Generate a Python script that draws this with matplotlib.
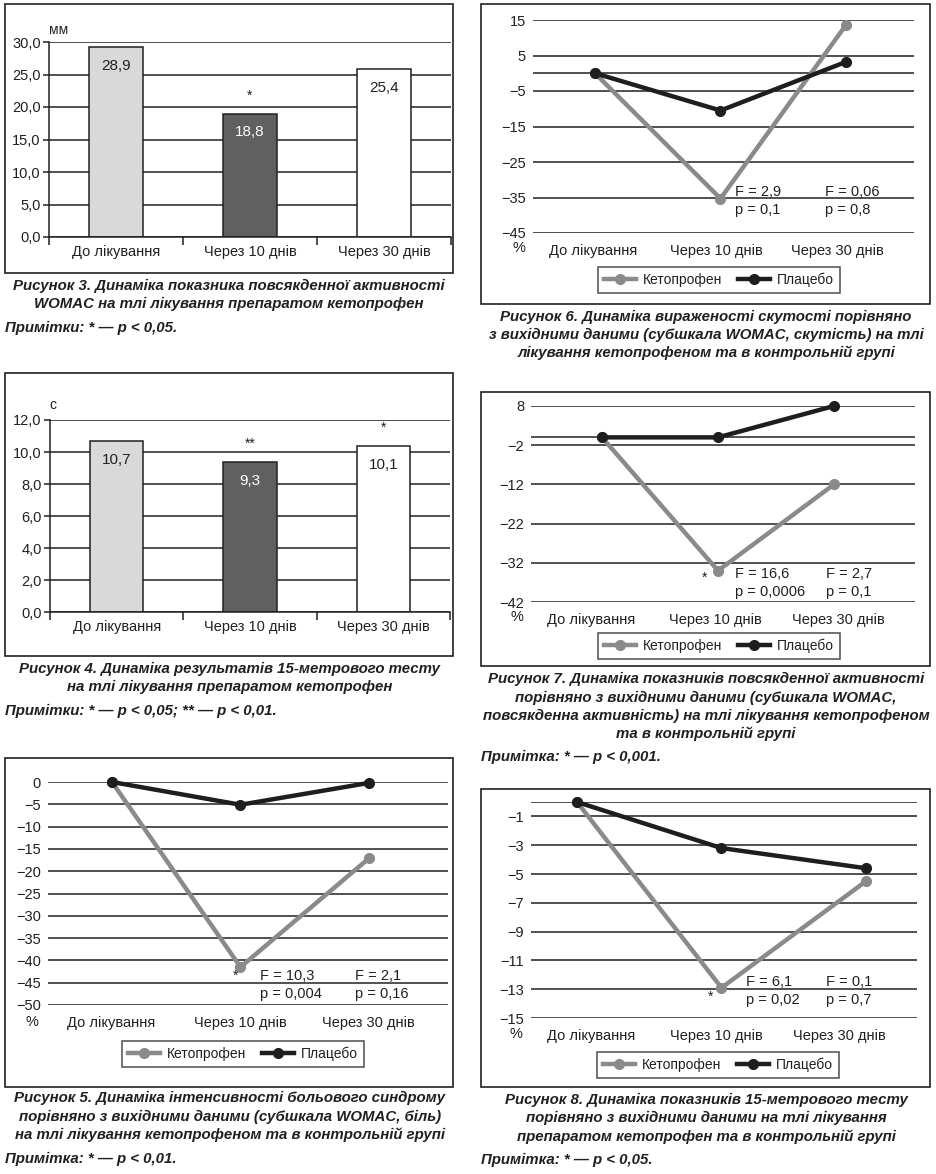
import matplotlib.pyplot as plt
from matplotlib.patches import Rectangle
import numpy as np

plt.rcParams['font.family'] = ['Liberation Sans', 'DejaVu Sans']
plt.rcParams['text.color'] = '#231f20'
plt.rcParams['xtick.color'] = '#231f20'
plt.rcParams['ytick.color'] = '#231f20'

W, H = 937, 1174

categories = ['До лікування', 'Через 10 днів', 'Через 30 днів']
series_names = ['Кетопрофен', 'Плацебо']

# Рисунок 3 - WOMAC, мм
fig3_values = [29.2, 19.0, 25.8]
fig3_labels = ['28,9', '18,8', '25,4']
fig3_marks = ['', '*', '']
fig3_ticks = [0, 5, 10, 15, 20, 25, 30]

# Рисунок 4 - 15-метровий тест, с
fig4_values = [10.7, 9.4, 10.4]
fig4_labels = ['10,7', '9,3', '10,1']
fig4_marks = ['', '**', '*']
fig4_ticks = [0, 2, 4, 6, 8, 10, 12]

# Рисунок 5 - біль, %
fig5_keto = [0, -41.5, -17.1]
fig5_placebo = [0, -5.1, -0.2]
fig5_ticks = [0, -5, -10, -15, -20, -25, -30, -35, -40, -45, -50]
fig5_stats = [('F = 10,3', 'p = 0,004'), ('F = 2,1', 'p = 0,16')]

# Рисунок 6 - скутість, %
fig6_keto = [0, -35.3, 13.6]
fig6_placebo = [0, -10.5, 3.2]
fig6_ticks = [15, 5, -5, -15, -25, -35, -45]
fig6_stats = [('F = 2,9', 'p = 0,1'), ('F = 0,06', 'p = 0,8')]

# Рисунок 7 - повсякденна активність, %
fig7_keto = [0, -34.0, -12.0]
fig7_placebo = [0, 0, 8.0]
fig7_ticks = [8, -2, -12, -22, -32, -42]
fig7_stats = [('F = 16,6', 'p = 0,0006'), ('F = 2,7', 'p = 0,1')]

# Рисунок 8 - 15-метровий тест, %
fig8_keto = [0, -12.9, -5.5]
fig8_placebo = [0, -3.2, -4.6]
fig8_ticks = [-1, -3, -5, -7, -9, -11, -13, -15]
fig8_stats = [('F = 6,1', 'p = 0,02'), ('F = 0,1', 'p = 0,7')]

fig = plt.figure(figsize=(W / 100, H / 100), dpi=100)


def px_ax(x0, y0, x1, y1):
    return fig.add_axes([x0 / W, 1 - y1 / H, (x1 - x0) / W, (y1 - y0) / H])


def ptext(x, y, s, **kw):
    kw.setdefault('fontsize', 10)
    kw.setdefault('va', 'center')
    fig.text(x / W, 1 - y / H, s, **kw)


def frame(x0, y0, x1, y1):
    fig.patches.append(Rectangle((x0 / W, 1 - y1 / H), (x1 - x0) / W, (y1 - y0) / H,
                                 transform=fig.transFigure, fill=False,
                                 edgecolor='#231f20', linewidth=1.2))


def caption(cx, ys, lines):
    for y, s in zip(ys, lines):
        ptext(cx, y, s, ha='center', fontsize=10.8, fontweight='bold', fontstyle='italic')


def note(x, y, s):
    ptext(x, y, s, ha='left', fontsize=10.8, fontweight='bold', fontstyle='italic')


def bar_chart(rect, values, labels, marks, ticks, unit_xy, unit):
    ax = px_ax(*rect)
    x = np.arange(len(values))
    ax.set_axisbelow(True)
    ax.yaxis.grid(True, color='#231f20', linewidth=1.1)
    ax.bar(x, values, width=0.4, color=['#d9d9d9', '#606060', '#ffffff'],
           edgecolor='#231f20', linewidth=1.1, zorder=2)
    for i, (v, lab, m) in enumerate(zip(values, labels, marks)):
        ax.annotate(lab, (i, v), xytext=(0, -19), textcoords='offset pixels',
                    ha='center', va='center', fontsize=11,
                    color='white' if i == 1 else '#231f20')
        if m:
            ax.annotate(m, (i, v), xytext=(0, 18), textcoords='offset pixels',
                        ha='center', va='center', fontsize=10)
    ax.set_xlim(-0.5, 2.5)
    ax.set_ylim(ticks[0], ticks[-1])
    ax.set_yticks(ticks)
    ax.set_yticklabels([f'{t:.1f}'.replace('.', ',') for t in ticks], fontsize=10.5)
    ax.set_xticks(x)
    ax.set_xticklabels(categories, fontsize=10.5)
    ax.set_xticks([-0.5, 0.5, 1.5, 2.5], minor=True)
    ax.tick_params(axis='x', which='major', length=0, pad=6)
    ax.tick_params(axis='x', which='minor', length=6, width=1.1, direction='out')
    ax.tick_params(axis='y', length=4, width=1.1, pad=2)
    for s in ['top', 'right']:
        ax.spines[s].set_visible(False)
    for s in ['left', 'bottom']:
        ax.spines[s].set_linewidth(1.1)
        ax.spines[s].set_color('#231f20')
    ptext(unit_xy[0], unit_xy[1], unit, ha='center', fontsize=10)
    return ax


def line_chart(rect, xlim, keto, placebo, ticks, zero_line, stats, stat_xy, star_xy, pct_xy, legend_c):
    ax = px_ax(*rect)
    x = np.arange(len(keto))
    ax.set_xlim(*xlim)
    ax.set_ylim(min(ticks), max(max(ticks), 0))
    ax.set_yticks(ticks)
    ax.set_yticklabels([str(t).replace('-', '\u2212') for t in ticks], fontsize=10.5)
    ax.yaxis.grid(True, color='#231f20', linewidth=1.1)
    if zero_line:
        ax.axhline(0, color='#231f20', linewidth=1.1)
    ax.plot(x, keto, color='#8a8a8a', linewidth=3.2, marker='o', markersize=7,
            label=series_names[0], clip_on=False, zorder=3)
    ax.plot(x, placebo, color='#1e1e1e', linewidth=3.2, marker='o', markersize=7,
            label=series_names[1], clip_on=False, zorder=4)
    frac = np.array([0.157, 0.48, 0.80])
    ax.set_xticks(xlim[0] + frac * (xlim[1] - xlim[0]))
    ax.set_xticklabels(categories, fontsize=10.5)
    ax.tick_params(axis='both', length=0)
    ax.tick_params(axis='x', pad=8)
    ax.tick_params(axis='y', pad=5)
    for s in ax.spines.values():
        s.set_visible(False)
    for (xf, yf), (f, p) in zip(stat_xy, stats):
        ptext(xf, yf, f, ha='left', fontsize=10.5)
        ptext(xf, yf + 18, p, ha='left', fontsize=10.5)
    if star_xy:
        ptext(star_xy[0], star_xy[1], '*', ha='center', fontsize=10)
    ptext(pct_xy[0], pct_xy[1], '%', ha='center', fontsize=10.5)
    leg = ax.legend(loc='center', bbox_to_anchor=(legend_c[0] / W, 1 - legend_c[1] / H),
                    bbox_transform=fig.transFigure, ncol=2, fontsize=10,
                    frameon=True, fancybox=False, edgecolor='#231f20',
                    handlelength=2.3, columnspacing=1.1, handletextpad=0.5,
                    borderpad=0.45, borderaxespad=0)
    leg.get_frame().set_linewidth(1.1)
    return ax


# Рисунок 3
frame(5, 4, 453, 273)
bar_chart((49, 42, 451, 237), fig3_values, fig3_labels, fig3_marks, fig3_ticks, (59, 30), 'мм')
caption(229, [286, 304], ['Рисунок 3. Динаміка показника повсякденної активності',
                          'WOMAC на тлі лікування препаратом кетопрофен'])
note(5, 328, 'Примітки: * — p < 0,05.')

# Рисунок 4
frame(5, 373, 453, 656)
bar_chart((50, 420, 450, 612), fig4_values, fig4_labels, fig4_marks, fig4_ticks, (53, 405), 'с')
caption(230, [669, 687], ['Рисунок 4. Динаміка результатів 15-метрового тесту',
                          'на тлі лікування препаратом кетопрофен'])
note(5, 711, 'Примітки: * — p < 0,05; ** — p < 0,01.')

# Рисунок 5
frame(5, 758, 453, 1087)
line_chart((48, 782, 448, 1005), (-0.498, 2.615), fig5_keto, fig5_placebo, fig5_ticks, False,
           fig5_stats, [(260, 976), (355, 976)], (236, 976), (32, 1022), (243, 1054))
caption(230, [1098, 1117, 1135], ['Рисунок 5. Динаміка інтенсивності больового синдрому',
                                  'порівняно з вихідними даними (субшкала WOMAC, біль)',
                                  'на тлі лікування кетопрофеном та в контрольній групі'])
note(5, 1159, 'Примітка: * — p < 0,01.')

# Рисунок 6
frame(481, 4, 930, 304)
line_chart((533, 20, 914, 233), (-0.494, 2.542), fig6_keto, fig6_placebo, fig6_ticks, True,
           fig6_stats, [(735, 192), (825, 192)], None, (519, 248), (719, 280))
caption(706, [317, 335, 353], ['Рисунок 6. Динаміка вираженості скутості порівняно',
                               'з вихідними даними (субшкала WOMAC, скутість) на тлі',
                               'лікування кетопрофеном та в контрольній групі'])

# Рисунок 7
frame(481, 392, 930, 666)
line_chart((531, 406, 915, 602), (-0.612, 2.698), fig7_keto, fig7_placebo, fig7_ticks, True,
           fig7_stats, [(735, 574), (826, 574)], (705, 578), (517, 617), (719, 646))
caption(706, [679, 698, 716, 734], ['Рисунок 7. Динаміка показників повсякденної активності',
                                    'порівняно з вихідними даними (субшкала WOMAC,',
                                    'повсякденна активність) на тлі лікування кетопрофеном',
                                    'та в контрольній групі'])
note(481, 757, 'Примітка: * — p < 0,001.')

# Рисунок 8
frame(481, 789, 930, 1087)
line_chart((531, 802, 917, 1018), (-0.318, 2.353), fig8_keto, fig8_placebo, fig8_ticks, True,
           fig8_stats, [(746, 982), (826, 982)], (711, 997), (516, 1034), (718, 1065))
caption(706, [1100, 1118, 1137], ['Рисунок 8. Динаміка показників 15-метрового тесту',
                                  'порівняно з вихідними даними на тлі лікування',
                                  'препаратом кетопрофен та в контрольній групі'])
note(481, 1160, 'Примітка: * — p < 0,05.')

fig.savefig('out.png', dpi=100)
